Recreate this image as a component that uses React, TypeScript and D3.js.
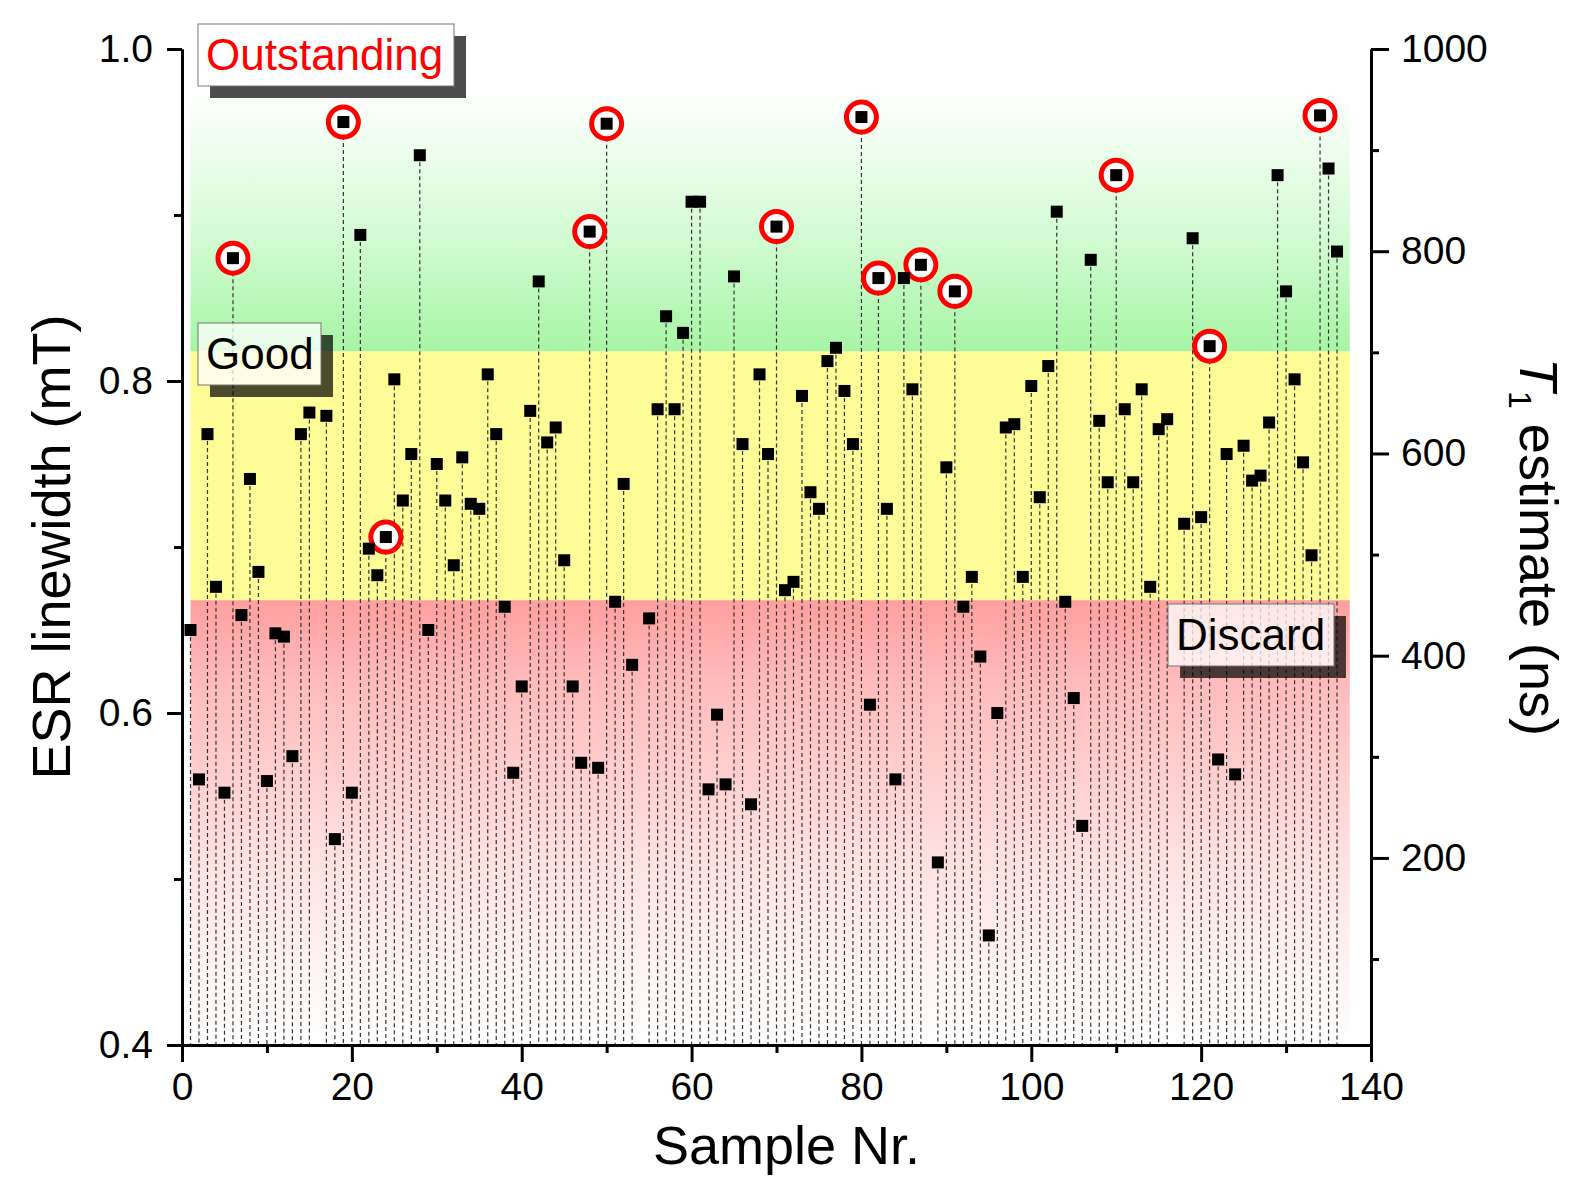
import { useEffect, useRef } from "react";
import * as d3 from "d3";

// Sample numbers (16, 54, 88 and 117 are absent in the measurement series)
const SAMPLES = [
  1, 2, 3, 4, 5, 6, 7, 8, 9, 10, 11, 12, 13, 14, 15, 17, 18, 19, 20,
  21, 22, 23, 24, 25, 26, 27, 28, 29, 30, 31, 32, 33, 34, 35, 36, 37, 38, 39, 40,
  41, 42, 43, 44, 45, 46, 47, 48, 49, 50, 51, 52, 53, 55, 56, 57, 58, 59, 60,
  61, 62, 63, 64, 65, 66, 67, 68, 69, 70, 71, 72, 73, 74, 75, 76, 77, 78, 79, 80,
  81, 82, 83, 84, 85, 86, 87, 89, 90, 91, 92, 93, 94, 95, 96, 97, 98, 99, 100,
  101, 102, 103, 104, 105, 106, 107, 108, 109, 110, 111, 112, 113, 114, 115, 116, 118, 119, 120,
  121, 122, 123, 124, 125, 126, 127, 128, 129, 130, 131, 132, 133, 134, 135, 136,
];

// ESR linewidth (mT), one per sample above
const LINEWIDTH = [
  0.650, 0.560, 0.768, 0.676, 0.552, 0.874, 0.659, 0.741, 0.685, 0.559, 0.648, 0.646, 0.574, 0.768, 0.781, 0.779, 0.524, 0.956, 0.552,
  0.888, 0.699, 0.683, 0.706, 0.801, 0.728, 0.756, 0.936, 0.650, 0.750, 0.728, 0.689, 0.754, 0.726, 0.723, 0.804, 0.768, 0.664, 0.564, 0.616,
  0.782, 0.860, 0.763, 0.772, 0.692, 0.616, 0.570, 0.890, 0.567, 0.955, 0.667, 0.738, 0.629, 0.657, 0.783, 0.839, 0.783, 0.829, 0.908,
  0.908, 0.554, 0.599, 0.557, 0.863, 0.762, 0.545, 0.804, 0.756, 0.893, 0.674, 0.679, 0.791, 0.733, 0.723, 0.812, 0.820, 0.794, 0.762, 0.959,
  0.605, 0.862, 0.723, 0.560, 0.862, 0.795, 0.870, 0.510, 0.748, 0.854, 0.664, 0.682, 0.634, 0.466, 0.600, 0.772, 0.774, 0.682, 0.797,
  0.730, 0.809, 0.902, 0.667, 0.609, 0.532, 0.873, 0.776, 0.739, 0.924, 0.783, 0.739, 0.795, 0.676, 0.771, 0.777, 0.714, 0.886, 0.718,
  0.821, 0.572, 0.756, 0.563, 0.761, 0.740, 0.743, 0.775, 0.924, 0.854, 0.801, 0.751, 0.695, 0.960, 0.928, 0.878,
];

// Samples marked with a red ring
const HIGHLIGHTED = [6, 19, 24, 48, 50, 70, 80, 82, 87, 91, 110, 121, 134];

// Quality bands (linewidth ranges)
const BAND_NAMES = ["Discard", "Good", "Outstanding"];
const BAND_LOW = [0.4, 0.668, 0.818];
const BAND_HIGH = [0.668, 0.818, 0.975];
const BAND_X = [1, 137.5];

const X_TICKS = [0, 20, 40, 60, 80, 100, 120, 140];
const X_MINOR = [10, 30, 50, 70, 90, 110, 130];
const Y_TICKS = [0.4, 0.6, 0.8, 1.0];
const Y_MINOR = [0.5, 0.7, 0.9];
const T1_TICKS = [200, 400, 600, 800, 1000];
const T1_MINOR = [100, 300, 500, 700, 900];

const WIDTH = 1578;
const HEIGHT = 1185;
const FONT = "'Liberation Sans', Arial, Helvetica, sans-serif";
const SHADOW = 12;

const plot = { left: 182, right: 1371, top: 49, bottom: 1045 };

// label boxes (pixel layout), text colour per band
const LABEL_LAYOUT: Record<string, { x: number; y: number; w: number; h: number; color: string }> = {
  Outstanding: { x: 198, y: 24, w: 256, h: 62, color: "#ff0000" },
  Good: { x: 198, y: 323, w: 123, h: 62, color: "#000" },
  Discard: { x: 1168, y: 604, w: 166, h: 62, color: "#000" },
};

export default function App() {
  const svgRef = useRef<SVGSVGElement>(null);

  useEffect(() => {
    if (!svgRef.current) return;
    const svg = d3.select(svgRef.current);
    svg.selectAll("*").remove();

    const x = d3.scaleLinear().domain([0, 140]).range([plot.left, plot.right]);
    const y = d3.scaleLinear().domain([0.4, 1.0]).range([plot.bottom, plot.top]);
    const yT1 = d3.scaleLinear().domain([15, 1000]).range([plot.bottom, plot.top]);

    // ============ DEFS ============
    const defs = svg.append("defs");
    const green = defs.append("linearGradient").attr("id", "grad-green")
      .attr("x1", 0).attr("y1", 0).attr("x2", 0).attr("y2", 1);
    green.append("stop").attr("offset", "0%").attr("stop-color", "#ffffff");
    green.append("stop").attr("offset", "55%").attr("stop-color", "#d4fbd4");
    green.append("stop").attr("offset", "100%").attr("stop-color", "#a6f5a6");

    const red = defs.append("linearGradient").attr("id", "grad-red")
      .attr("x1", 0).attr("y1", 0).attr("x2", 0).attr("y2", 1);
    red.append("stop").attr("offset", "0%").attr("stop-color", "#ff9f9f");
    red.append("stop").attr("offset", "20%").attr("stop-color", "#ffbdbd");
    red.append("stop").attr("offset", "60%").attr("stop-color", "#ffe3e3");
    red.append("stop").attr("offset", "100%").attr("stop-color", "#ffffff");

    const bandFill = ["url(#grad-red)", "#fdfc96", "url(#grad-green)"];

    // ============ BANDS ============
    svg.append("g").attr("class", "bands")
      .selectAll("rect")
      .data(BAND_NAMES)
      .join("rect")
      .attr("x", x(BAND_X[0]))
      .attr("width", x(BAND_X[1]) - x(BAND_X[0]))
      .attr("y", (_, i) => y(BAND_HIGH[i]))
      .attr("height", (_, i) => y(BAND_LOW[i]) - y(BAND_HIGH[i]))
      .attr("fill", (_, i) => bandFill[i]);

    const points = SAMPLES.map((s, i) => ({ s, v: LINEWIDTH[i] }));

    // ============ DROP LINES ============
    svg.append("g").attr("class", "drop-lines")
      .selectAll("line")
      .data(points)
      .join("line")
      .attr("x1", (d) => x(d.s))
      .attr("x2", (d) => x(d.s))
      .attr("y1", (d) => y(d.v))
      .attr("y2", y(0.4))
      .attr("stroke", "#333")
      .attr("stroke-width", 1.2)
      .attr("stroke-dasharray", "4,3");

    // ============ RINGS ============
    svg.append("g").attr("class", "rings")
      .selectAll("circle")
      .data(points.filter((d) => HIGHLIGHTED.includes(d.s)))
      .join("circle")
      .attr("cx", (d) => x(d.s))
      .attr("cy", (d) => y(d.v))
      .attr("r", 15)
      .attr("fill", "#fff")
      .attr("stroke", "#ff0000")
      .attr("stroke-width", 5);

    // ============ MARKERS ============
    svg.append("g").attr("class", "markers")
      .selectAll("rect")
      .data(points)
      .join("rect")
      .attr("x", (d) => x(d.s) - 6)
      .attr("y", (d) => y(d.v) - 6)
      .attr("width", 12)
      .attr("height", 12)
      .attr("fill", "#000");

    // ============ LABEL BOXES ============
    const labels = svg.append("g").attr("class", "labels");
    BAND_NAMES.forEach((name) => {
      const l = LABEL_LAYOUT[name];
      // L-shaped drop shadow, only visible outside the box
      labels.append("rect")
        .attr("x", l.x + l.w).attr("y", l.y + SHADOW)
        .attr("width", SHADOW).attr("height", l.h)
        .attr("fill", "#000").attr("fill-opacity", 0.7);
      labels.append("rect")
        .attr("x", l.x + SHADOW).attr("y", l.y + l.h)
        .attr("width", l.w - SHADOW).attr("height", SHADOW)
        .attr("fill", "#000").attr("fill-opacity", 0.7);
      labels.append("rect")
        .attr("x", l.x).attr("y", l.y)
        .attr("width", l.w).attr("height", l.h)
        .attr("fill", "#fff").attr("fill-opacity", 0.75)
        .attr("stroke", "#777").attr("stroke-width", 1);
      labels.append("text")
        .attr("x", l.x + 8)
        .attr("y", l.y + 46)
        .attr("font-family", FONT)
        .attr("font-size", 44)
        .attr("fill", l.color)
        .text(name);
    });

    // ============ AXES ============
    const styleAxis = (g: d3.Selection<SVGGElement, unknown, null, undefined>) => {
      g.select(".domain").attr("stroke", "#000").attr("stroke-width", 3);
      g.selectAll(".tick line").attr("stroke", "#000").attr("stroke-width", 3);
      g.selectAll(".tick text")
        .attr("font-family", FONT)
        .attr("font-size", 39)
        .attr("fill", "#000");
    };

    const axes = svg.append("g").attr("class", "axes");

    axes.append("g")
      .attr("transform", `translate(0,${plot.bottom})`)
      .call(d3.axisBottom(x).tickValues(X_MINOR).tickSize(8).tickSizeOuter(0).tickFormat(() => ""))
      .call(styleAxis);
    axes.append("g")
      .attr("transform", `translate(0,${plot.bottom})`)
      .call(d3.axisBottom(x).tickValues(X_TICKS).tickSize(17).tickSizeOuter(0).tickPadding(10).tickFormat(d3.format("d")))
      .call(styleAxis);

    axes.append("g")
      .attr("transform", `translate(${plot.left},0)`)
      .call(d3.axisLeft(y).tickValues(Y_MINOR).tickSize(8).tickSizeOuter(0).tickFormat(() => ""))
      .call(styleAxis);
    axes.append("g")
      .attr("transform", `translate(${plot.left},0)`)
      .call(d3.axisLeft(y).tickValues(Y_TICKS).tickSize(15).tickSizeOuter(0).tickPadding(14).tickFormat(d3.format(".1f")))
      .call(styleAxis);

    axes.append("g")
      .attr("transform", `translate(${plot.right},0)`)
      .call(d3.axisRight(yT1).tickValues(T1_MINOR).tickSize(8).tickSizeOuter(0).tickFormat(() => ""))
      .call(styleAxis);
    axes.append("g")
      .attr("transform", `translate(${plot.right},0)`)
      .call(d3.axisRight(yT1).tickValues(T1_TICKS).tickSize(18).tickSizeOuter(0).tickPadding(12).tickFormat(d3.format("d")))
      .call(styleAxis);

    // ============ AXIS TITLES ============
    svg.append("text")
      .attr("x", (plot.left + plot.right) / 2 + 10)
      .attr("y", 1164)
      .attr("text-anchor", "middle")
      .attr("font-family", FONT)
      .attr("font-size", 54)
      .text("Sample Nr.");

    svg.append("text")
      .attr("transform", `translate(70,${(plot.top + plot.bottom) / 2}) rotate(-90)`)
      .attr("text-anchor", "middle")
      .attr("font-family", FONT)
      .attr("font-size", 54)
      .text("ESR linewidth (mT)");

    const t1 = svg.append("text")
      .attr("transform", `translate(1520,${(plot.top + plot.bottom) / 2}) rotate(90)`)
      .attr("text-anchor", "middle")
      .attr("font-family", FONT)
      .attr("font-size", 54);
    t1.append("tspan").attr("font-style", "italic").text("T");
    t1.append("tspan").attr("font-size", 32).attr("dy", 11).text("1");
    t1.append("tspan").attr("dy", -11).text(" estimate (ns)");
  }, []);

  return (
    <div style={{ position: "absolute", left: 0, top: 0, background: "#fff" }}>
      <svg ref={svgRef} width={WIDTH} height={HEIGHT} style={{ display: "block" }} />
    </div>
  );
}
